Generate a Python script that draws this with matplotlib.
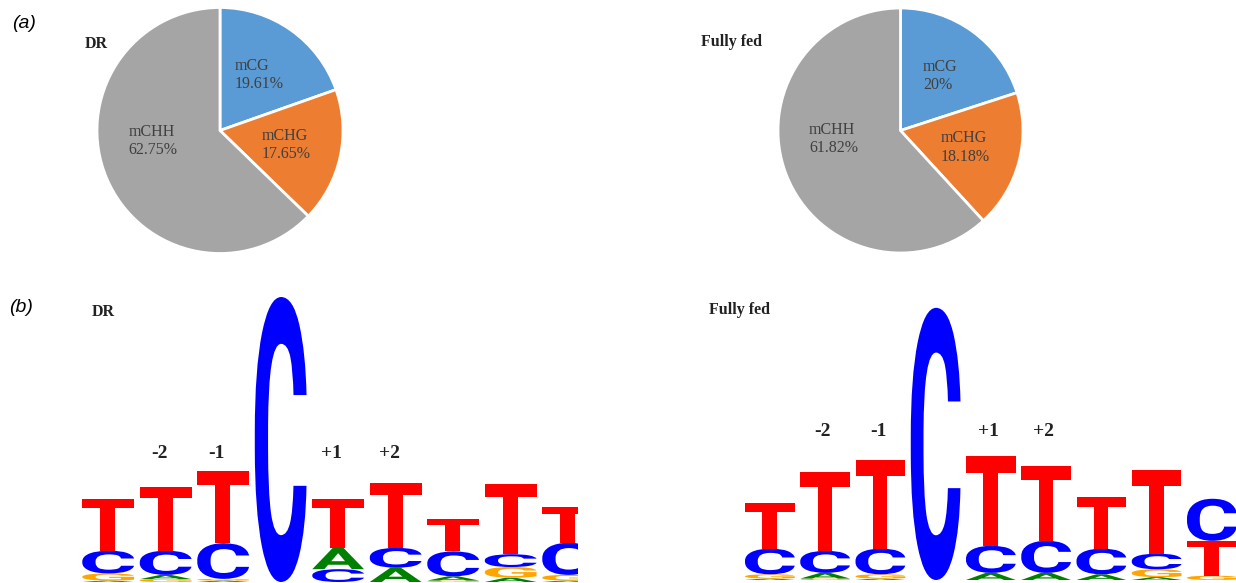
import matplotlib
matplotlib.use('Agg')
import numpy as np
import matplotlib.pyplot as plt
from matplotlib.textpath import TextPath
from matplotlib.patches import PathPatch
from matplotlib.font_manager import FontProperties
from matplotlib.transforms import Affine2D

# (a) share of methylation contexts, percent
pie_labels = ['mCG', 'mCHG', 'mCHH']
dr_pct = [19.61, 17.65, 62.75]
fed_pct = [20.00, 18.18, 61.82]
pie_colors = ['#5B9BD5', '#ED7D31', '#A5A5A5']

# (b) sequence logos, letter heights in bits for positions 1..9
dr_A = [0.01, 0.03, 0.01, 0.0, 0.15, 0.10, 0.03, 0.03, 0.01]
dr_C = [0.16, 0.17, 0.25, 2.00, 0.09, 0.14, 0.175, 0.09, 0.225]
dr_G = [0.05, 0.02, 0.012, 0.0, 0.0, 0.0, 0.01, 0.075, 0.04]
dr_T = [0.365, 0.45, 0.505, 0.0, 0.345, 0.455, 0.23, 0.49, 0.25]

fed_A = [0.01, 0.04, 0.01, 0.0, 0.05, 0.05, 0.04, 0.02, 0.0]
fed_C = [0.18, 0.155, 0.18, 1.91, 0.19, 0.225, 0.18, 0.11, 0.295]
fed_G = [0.03, 0.01, 0.03, 0.0, 0.0, 0.0, 0.0, 0.055, 0.03]
fed_T = [0.32, 0.55, 0.625, 0.0, 0.63, 0.525, 0.36, 0.585, 0.245]

pos_labels = ['-2', '-1', '+1', '+2']
pos_index = [1, 2, 4, 5]

letter_colors = {'A': '#008000', 'C': '#0000FF', 'G': '#FFA500', 'T': '#FF0000'}
# heavier face for T so the stem looks like the weblogo one
letter_fonts = {'A': FontProperties(family='Roboto', weight='bold'),
                'C': FontProperties(family='Roboto', weight='bold'),
                'G': FontProperties(family='Roboto', weight='bold'),
                'T': FontProperties(family='Roboto', weight=900)}

W, H = 1236, 583
PX_PER_BIT = 142.5
# excel "best fit" puts the big slice label a bit higher
label_turn = [0, 0, -14]


def px_axes(fig, left, top, right, bottom):
    # axes from pixel box (top-left origin)
    return fig.add_axes([left / W, (H - bottom) / H,
                         (right - left) / W, (bottom - top) / H])


def fig_text(fig, x, y, s, **kw):
    fig.text(x / W, 1 - y / H, s, **kw)


def pct_str(v):
    s = '%.2f' % v
    s = s.rstrip('0').rstrip('.')
    return s + '%'


def draw_pie(fig, cx, cy, r, values):
    pad = 1.04
    ax = px_axes(fig, cx - r * pad, cy - r * pad, cx + r * pad, cy + r * pad)
    wedges, _ = ax.pie(values, colors=pie_colors, startangle=90,
                       counterclock=False,
                       wedgeprops=dict(edgecolor='white', linewidth=2))
    ax.set_xlim(-pad, pad)
    ax.set_ylim(-pad, pad)
    ax.set_aspect('auto')
    ax.axis('off')
    for w, lab, v, turn in zip(wedges, pie_labels, values, label_turn):
        ang = np.deg2rad((w.theta1 + w.theta2) / 2 + turn)
        ax.text(0.55 * np.cos(ang), 0.55 * np.sin(ang),
                lab + '\n' + pct_str(v), ha='center', va='center',
                multialignment='left', fontsize=11.5, color='#404040',
                family='Liberation Serif')


def draw_letter(ax, letter, x, y, w, h):
    tp = TextPath((0, 0), letter, size=1, prop=letter_fonts[letter])
    bb = tp.get_extents()
    t = Affine2D().translate(-bb.x0, -bb.y0) \
        .scale(w / bb.width, h / bb.height).translate(x, y)
    ax.add_patch(PathPatch(t.transform_path(tp), fc=letter_colors[letter],
                           ec='none'))


def draw_logo(fig, left, right, bottom, top, col_w, heights, label_y, label_dx):
    ax = px_axes(fig, left, top, right, bottom)
    ax.set_xlim(0, (right - left) / col_w)
    ax.set_ylim(0, (bottom - top) / PX_PER_BIT)
    ax.axis('off')
    n = len(heights['A'])
    for i in range(n):
        col = sorted([(heights[k][i], k) for k in 'ACGT'])
        y = 0.0
        for h, k in col:
            if h > 0:
                draw_letter(ax, k, i + 0.04, y, 0.90, h)
                y += h
    for lab, i in zip(pos_labels, pos_index):
        ax.text(i + 0.5 + label_dx, label_y, lab, ha='center', va='center',
                fontsize=14, fontweight='bold', family='Liberation Serif',
                color='#222222')


fig = plt.figure(figsize=(W / 100, H / 100), dpi=100)

# panel (a)
draw_pie(fig, 220, 130.5, 123, dr_pct)
draw_pie(fig, 900.5, 130.5, 122.5, fed_pct)
fig_text(fig, 12, 23, '(a)', fontsize=14, style='italic',
         family='Liberation Sans', va='center', ha='left')
fig_text(fig, 85, 44, 'DR', fontsize=11.5, fontweight='bold',
         family='Liberation Serif', va='center', ha='left', color='#222222')
fig_text(fig, 701, 42, 'Fully fed', fontsize=11.5, fontweight='bold',
         family='Liberation Serif', va='center', ha='left', color='#222222')

# panel (b)
draw_logo(fig, 80, 578, 582, 290, 57.5,
          {'A': dr_A, 'C': dr_C, 'G': dr_G, 'T': dr_T},
          (582 - 453) / PX_PER_BIT, -0.12)
draw_logo(fig, 742.8, 1236, 580, 290, 55.25,
          {'A': fed_A, 'C': fed_C, 'G': fed_G, 'T': fed_T},
          (580 - 432) / PX_PER_BIT, -0.05)
fig_text(fig, 9, 307, '(b)', fontsize=14, style='italic',
         family='Liberation Sans', va='center', ha='left')
fig_text(fig, 92, 312, 'DR', fontsize=11.5, fontweight='bold',
         family='Liberation Serif', va='center', ha='left', color='#222222')
fig_text(fig, 709, 310, 'Fully fed', fontsize=11.5, fontweight='bold',
         family='Liberation Serif', va='center', ha='left', color='#222222')

fig.savefig('out.png', dpi=100)
